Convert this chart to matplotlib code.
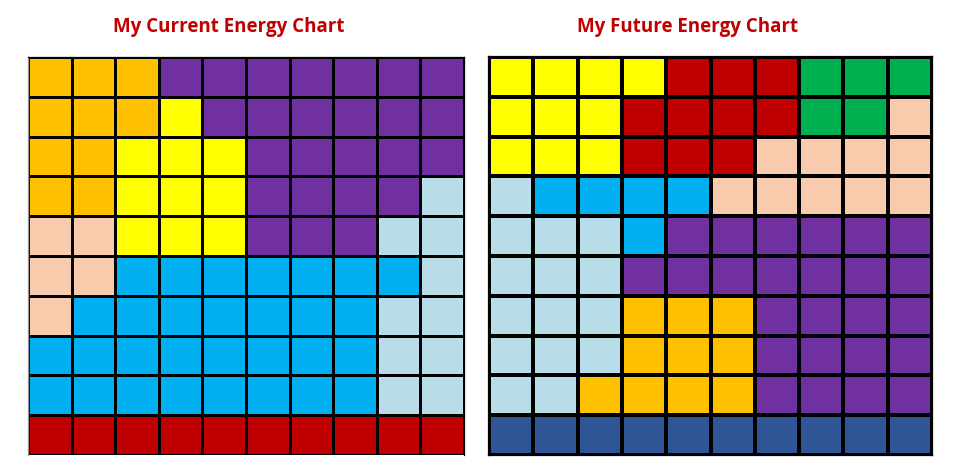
import matplotlib
matplotlib.use("Agg")
import matplotlib.pyplot as plt
import numpy as np
from matplotlib.colors import ListedColormap

# colour codes used in the grids
CODES = ["O", "P", "Y", "S", "B", "L", "R", "G", "N"]
COLORS = ["#FFC000", "#7030A0", "#FFFF00", "#F8CBAD", "#00B0F0",
          "#B7DEE8", "#C00000", "#00B050", "#2F5597"]

TITLES = ["My Current Energy Chart", "My Future Energy Chart"]

current_rows = [
    "OOOPPPPPPP",
    "OOOYPPPPPP",
    "OOYYYPPPPP",
    "OOYYYPPPPL",
    "SSYYYPPPLL",
    "SSBBBBBBBL",
    "SBBBBBBBLL",
    "BBBBBBBBLL",
    "BBBBBBBBLL",
    "RRRRRRRRRR",
]

future_rows = [
    "YYYYRRRGGG",
    "YYYRRRRGGS",
    "YYYRRRSSSS",
    "LBBBBSSSSS",
    "LLLBPPPPPP",
    "LLLPPPPPPP",
    "LLLOOOPPPP",
    "LLLOOOPPPP",
    "LLOOOOPPPP",
    "NNNNNNNNNN",
]

W, H = 960, 477
fig = plt.figure(figsize=(W / 100, H / 100), dpi=100)
cmap = ListedColormap(COLORS)


def to_grid(rows):
    return np.array([[CODES.index(c) for c in r] for r in rows])


def draw_grid(rect_px, rows, title, lw, title_x, bottom_spine=True):
    x0, y0, x1, y1 = rect_px
    ax = fig.add_axes([x0 / W, 1 - y1 / H, (x1 - x0) / W, (y1 - y0) / H])
    grid = to_grid(rows)
    ax.pcolormesh(grid, cmap=cmap, vmin=-0.5, vmax=len(COLORS) - 0.5,
                  edgecolors="black", linewidth=lw)
    ax.set_xlim(0, 10)
    ax.set_ylim(10, 0)
    ax.set_xticks([])
    ax.set_yticks([])
    for s in ax.spines.values():
        s.set_linewidth(lw)
    if not bottom_spine:
        ax.spines["bottom"].set_visible(False)
        ax.spines["left"].set_color("#999999")
    fig.text(title_x / W, 1 - 27 / H, title, ha="center", va="center",
             color="#C00000", fontsize=13.5, fontweight="bold",
             family="Open Sans")
    return ax


draw_grid((28, 58, 464, 456), current_rows, TITLES[0], 0.9, 229, bottom_spine=False)
draw_grid((489, 58, 932, 456), future_rows, TITLES[1], 1.6, 688)

fig.savefig("out.png", dpi=100)
